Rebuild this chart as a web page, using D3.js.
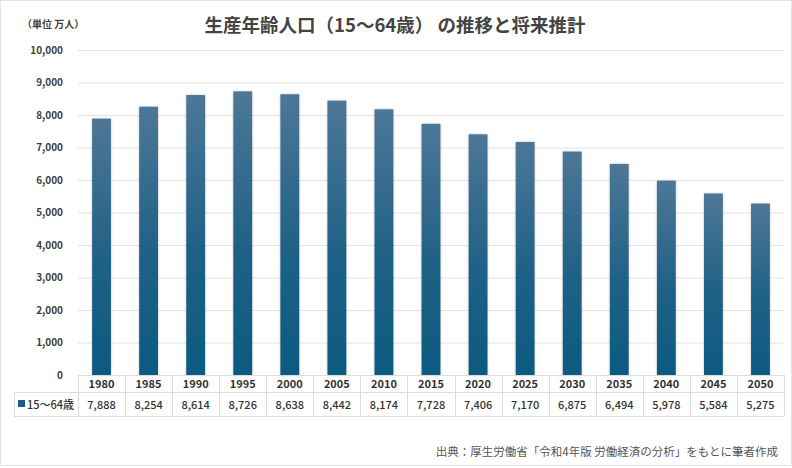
<!DOCTYPE html>
<meta charset="utf-8">
<script src="https://d3js.org/d3.v7.min.js"></script>
<style>
body { margin: 0; background: #fff; }
svg { display: block; }
text { font-family: "Noto Sans CJK JP", "Noto Sans", sans-serif; }
.grid line { stroke: #e3e3e3; stroke-width: 1px; }
.grid path { display: none; }
.yaxis text { font-size: 10px; font-weight: bold; fill: #404040; }
.yaxis line, .yaxis path { display: none; }
.tableLine { stroke: #dcdcdc; stroke-width: 1px; }
.yearText { font-size: 11px; font-weight: bold; fill: #333; }
.valueText { font-size: 11px; font-weight: 500; fill: #333; }
</style>
<body>
<script>

// DATA
const years = ["1980","1985","1990","1995","2000","2005","2010","2015","2020","2025","2030","2035","2040","2045","2050"];
const population = [7888, 8254, 8614, 8726, 8638, 8442, 8174, 7728, 7406, 7170, 6875, 6494, 5978, 5584, 5275];
const yTicks = [0, 1000, 2000, 3000, 4000, 5000, 6000, 7000, 8000, 9000, 10000];
const seriesName = "15～64歳";

const width = 792;
const height = 468;
const plotLeft = 78, plotRight = 784, plotTop = 50, plotBottom = 375;
const headerBottom = 392, tableBottom = 416, tableLeft = 14;

const fmt = d3.format(",");

const svg = d3.select("body").append("svg")
  .attr("width", width)
  .attr("height", height);

// outer frame
svg.append("rect")
  .attr("x", 0.5).attr("y", 0.5)
  .attr("width", width - 1).attr("height", height - 3)
  .attr("fill", "#fff")
  .attr("stroke", "#e2e2e2");

// gradient for bars
const grad = svg.append("defs").append("linearGradient")
  .attr("id", "barGrad")
  .attr("x1", 0).attr("y1", 0).attr("x2", 0).attr("y2", 1);
grad.append("stop").attr("offset", "0%").attr("stop-color", "#4d7797");
grad.append("stop").attr("offset", "55%").attr("stop-color", "#1f6186");
grad.append("stop").attr("offset", "100%").attr("stop-color", "#0c5a80");

const x = d3.scaleBand()
  .domain(years)
  .range([plotLeft, plotRight])
  .paddingInner(0.6)
  .paddingOuter(0.3);

const y = d3.scaleLinear()
  .domain([0, 10000])
  .range([plotBottom, plotTop]);

// GRIDLINES
svg.append("g")
  .attr("class", "grid")
  .attr("transform", `translate(${plotLeft},0)`)
  .call(d3.axisLeft(y).tickValues(yTicks.slice(1)).tickSize(-(plotRight - plotLeft)).tickFormat(""));

// Y AXIS LABELS
svg.append("g")
  .attr("class", "yaxis")
  .attr("transform", `translate(${plotLeft - 12},0)`)
  .call(d3.axisLeft(y).tickValues(yTicks).tickSize(0).tickFormat(fmt))
  .selectAll("text")
  .attr("dy", "0.32em");

// BARS
svg.append("g").selectAll("rect")
  .data(population)
  .join("rect")
  .attr("x", (d, i) => x(years[i]))
  .attr("y", d => y(d))
  .attr("width", x.bandwidth())
  .attr("height", d => y(0) - y(d))
  .attr("fill", "url(#barGrad)")
  .style("filter", "drop-shadow(0px 0px 1px rgba(0,0,0,0.25))");

// ---------------------------//
//         DATA TABLE         //
// ---------------------------//

const step = x.step();
const colEdges = d3.range(years.length + 1).map(i => plotLeft + i * step);

// horizontal lines
svg.append("line").attr("class", "tableLine")
  .attr("x1", plotLeft).attr("x2", plotRight).attr("y1", plotBottom + 0.5).attr("y2", plotBottom + 0.5);
svg.append("line").attr("class", "tableLine")
  .attr("x1", tableLeft).attr("x2", plotRight).attr("y1", headerBottom + 0.5).attr("y2", headerBottom + 0.5);
svg.append("line").attr("class", "tableLine")
  .attr("x1", tableLeft).attr("x2", plotRight).attr("y1", tableBottom + 0.5).attr("y2", tableBottom + 0.5);

// vertical lines
svg.append("g").selectAll("line")
  .data(colEdges)
  .join("line")
  .attr("class", "tableLine")
  .attr("x1", d => Math.round(d) + 0.5).attr("x2", d => Math.round(d) + 0.5)
  .attr("y1", plotBottom).attr("y2", tableBottom);
svg.append("line").attr("class", "tableLine")
  .attr("x1", tableLeft + 0.5).attr("x2", tableLeft + 0.5)
  .attr("y1", headerBottom).attr("y2", tableBottom);

// year row
svg.append("g").selectAll("text")
  .data(years)
  .join("text")
  .attr("class", "yearText")
  .attr("x", d => x(d) + x.bandwidth() / 2)
  .attr("y", (plotBottom + headerBottom) / 2 + 1)
  .attr("dy", "0.35em")
  .attr("text-anchor", "middle")
  .text(d => d);

// value row
svg.append("g").selectAll("text")
  .data(population)
  .join("text")
  .attr("class", "valueText")
  .attr("x", (d, i) => x(years[i]) + x.bandwidth() / 2)
  .attr("y", (headerBottom + tableBottom) / 2 + 1)
  .attr("dy", "0.35em")
  .attr("text-anchor", "middle")
  .text(d => fmt(d));

// legend cell
svg.append("rect")
  .attr("x", 18).attr("y", 400)
  .attr("width", 7).attr("height", 7)
  .attr("fill", "#1a5f85");
svg.append("text")
  .attr("class", "valueText")
  .attr("x", 27)
  .attr("y", (headerBottom + tableBottom) / 2 + 1)
  .attr("dy", "0.35em")
  .text(seriesName);

// ---------------------------//
//         TEXTS              //
// ---------------------------//

svg.append("text")
  .attr("x", 395)
  .attr("y", 32)
  .attr("text-anchor", "middle")
  .style("font-size", "18.5px")
  .style("font-weight", "bold")
  .style("fill", "#444")
  .text("生産年齢人口（15～64歳） の推移と将来推計");

svg.append("text")
  .attr("x", 22)
  .attr("y", 28)
  .style("font-size", "10px")
  .style("font-weight", "bold")
  .style("fill", "#404040")
  .text("（単位 万人）");

svg.append("text")
  .attr("x", 778)
  .attr("y", 456)
  .attr("text-anchor", "end")
  .style("font-size", "11.5px")
  .style("fill", "#555")
  .text("出典：厚生労働省「令和4年版 労働経済の分析」をもとに筆者作成");

</script>
</body>
